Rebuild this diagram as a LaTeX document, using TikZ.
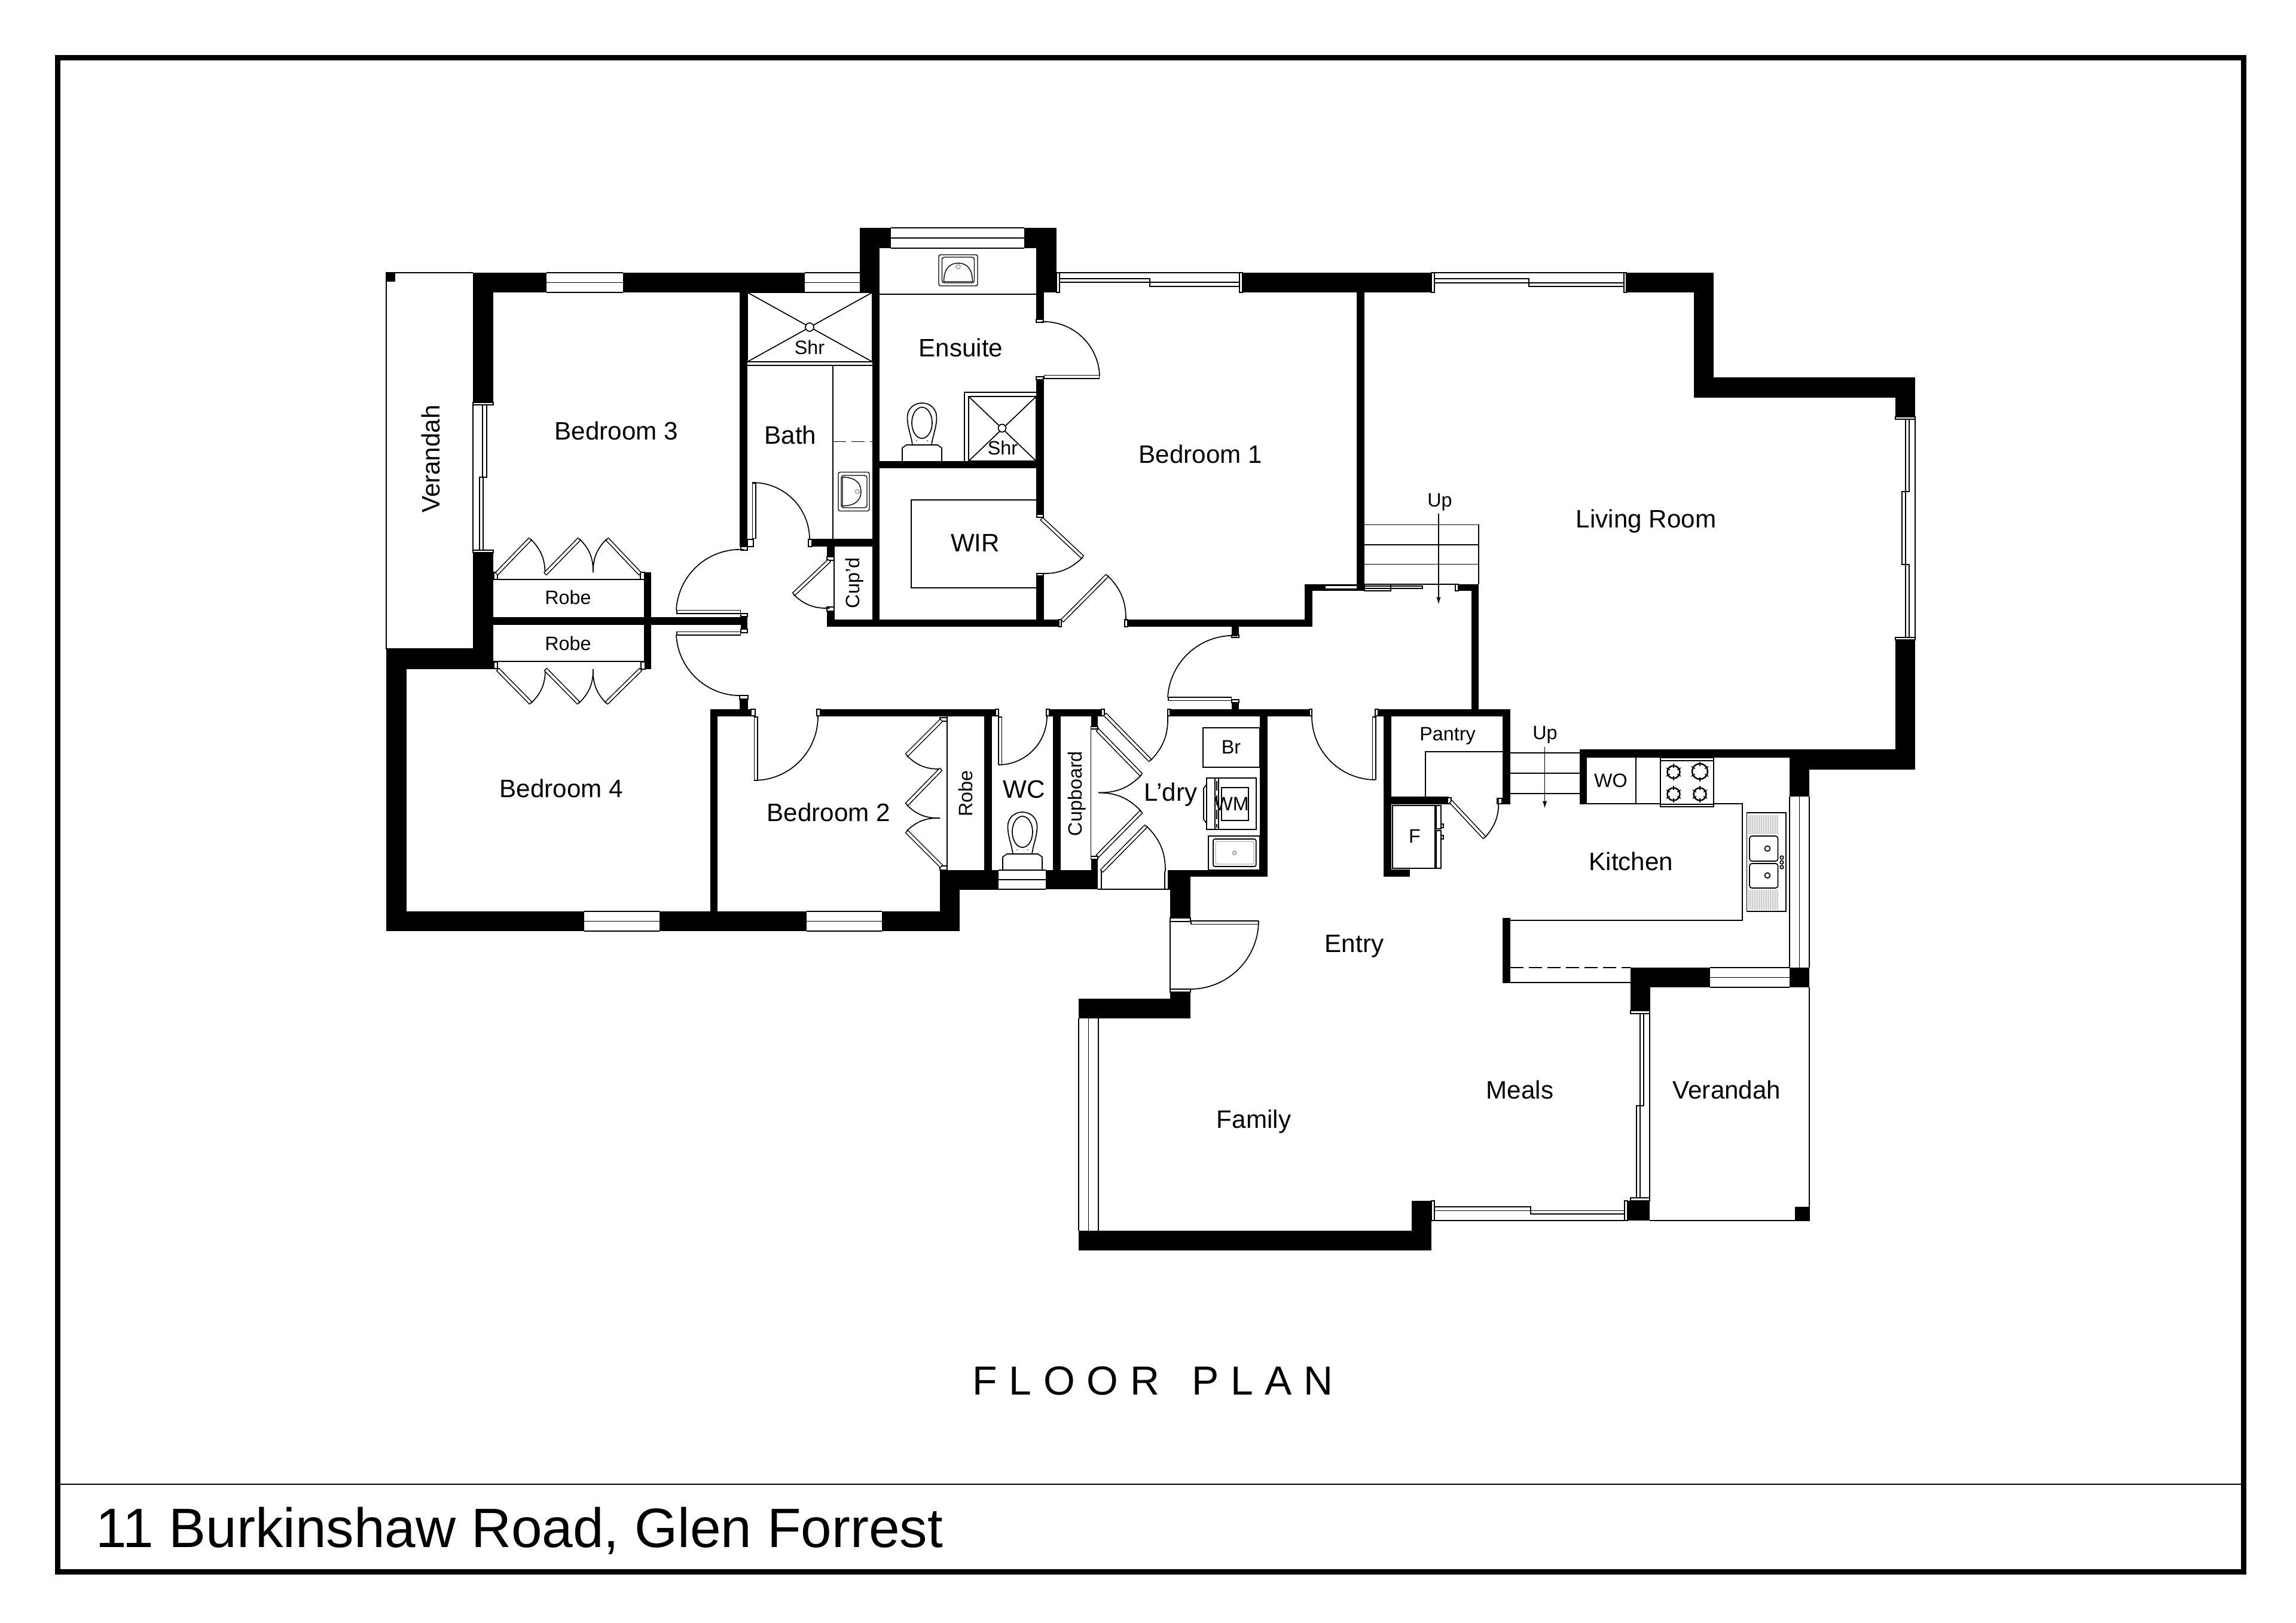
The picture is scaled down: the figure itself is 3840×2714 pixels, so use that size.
\documentclass[tikz,border=0pt]{standalone}
\usepackage{fontspec}
\setmainfont{Liberation Sans}
\usetikzlibrary{arrows.meta,calc}
\tikzset{
 tn/.style={line width=.17mm,black},
 room/.style={font=\fontsize{12}{13}\selectfont,inner sep=0pt},
 smalltxt/.style={font=\fontsize{9.2}{10}\selectfont,inner sep=0pt},
 upline/.style={tn,-{Latex[length=1.25mm,width=.75mm]}},
 dashln/.style={tn,dash pattern=on 2.2mm off .9mm},
}
\newcommand\wl[4]{\fill[black] (#1,#2) rectangle (#3,#4);}
\newcommand\jb[4]{\draw[tn,fill=white] (#1,#2) rectangle (#3,#4);}
\newcommand\bx[4]{\draw[tn] (#1,#2) rectangle (#3,#4);}
\newcommand\pn[2]{\draw[black,line width=.7mm] #1 -- #2;\draw[white,line width=.4mm,shorten <=.15mm,shorten >=.15mm] #1 -- #2;}
\newcommand\dr[4]{\draw[tn] #1 to[#3=#4] #2;}
\newcommand\win[4]{\draw[tn] (#1,#2) -- (#3,#2) (#1,#4) -- (#3,#4) (#1,{(#2+#4)/2}) -- (#3,{(#2+#4)/2});}
\newcommand\vwin[4]{\draw[tn] (#1,#2) -- (#1,#4) (#3,#2) -- (#3,#4) ({(#1+#3)/2},#2) -- ({(#1+#3)/2},#4);}
\newcommand\toilet[2]{\begin{scope}[shift={(#1,#2)}]
 \draw[tn] (-33,0) -- (-33,-22) -- (-26,-27) -- (26,-27) -- (33,-22) -- (33,0);
 \draw[tn] (-16,-27) .. controls (-18,-43) and (-24.5,-56) .. (-24.5,-73) .. controls (-24.5,-88) and (-13,-97) .. (0,-97) .. controls (13,-97) and (24.5,-88) .. (24.5,-73) .. controls (24.5,-56) and (18,-43) .. (16,-27);
 \draw[tn] (0,-64) ellipse [x radius=1.7mm,y radius=2.6mm];
 \fill (-9,-34) circle [radius=.09mm] (9,-34) circle [radius=.09mm];
\end{scope}}
\newcommand\basin[3]{\begin{scope}[shift={(#1,#2)},rotate=#3]
 \draw[line width=.14mm,rounded corners=.3mm] (-32.5,-26) rectangle (32.5,26);
 \draw[line width=.14mm,rounded corners=.4mm] (-27,-22) rectangle (27,21);
 \draw[line width=.14mm] (-24,19) -- (24,19) .. controls (24,-4) and (13,-12) .. (0,-12) .. controls (-13,-12) and (-24,-4) .. (-24,19);
 \draw[line width=.2mm,gray!60] (0,-6) circle [radius=.35mm];
\end{scope}}
\newcommand\bur[3]{\begin{scope}[shift={(#1,#2)}]
 \draw[line width=.25mm] (0,0) circle [radius=#3];
 \foreach \a in {90,270,30,150,210,330}{\draw[line width=.15mm] (\a:#3-.35mm) -- (\a:#3+.35mm);}
\end{scope}}
\begin{document}
\begin{tikzpicture}[x=.1mm,y=-.1mm]
\useasboundingbox (0,0) rectangle (3840,2714);
\fill[white] (0,0) rectangle (3840,2714);
% frame
\draw[black,line width=.9mm] (96.5,96.7) rectangle (3752.7,2628.3);
\draw[black,line width=.25mm] (96.5,2482) -- (3752.7,2482);
\node[anchor=base west,inner sep=0pt,font=\fontsize{26.4}{28}\selectfont] (title) at (160,2587) {11 Burkinshaw Road, Glen Forrest};
\node[anchor=base west,inner sep=0pt,font=\fontsize{19.3}{21}\selectfont\addfontfeature{LetterSpace=29}] (plan) at (1626,2332) {FLOOR\hspace{1.6mm} PLAN};

% --- left verandah
\draw[tn] (791,456) -- (646,456) -- (646,1085) -- (791,1085);
\wl{646}{456}{661}{471}
% --- top walls
\wl{791}{456}{914}{489}
\win{914}{456}{1042}{489}
\wl{1042}{456}{1346}{489}
\win{1346}{456}{1438}{489}
\wl{1437.5}{381}{1490}{415}
\wl{1437.5}{381}{1471}{489}
\win{1490}{381}{1713}{415}
\wl{1713}{381}{1767}{415}
\wl{1733}{415}{1767}{489}
% top window bed 1
\jb{1767}{456}{1772}{489}
\jb{2073}{456}{2078}{489}
\draw[tn] (1767,456) -- (2078,456);
\bx{1772}{466}{1923}{472}
\bx{1923}{472}{2073}{479}
\wl{2078}{456}{2394}{489}
\jb{2394}{456}{2399}{489}
\jb{2716}{456}{2720}{489}
\draw[tn] (2394,456) -- (2720,456);
\bx{2399}{466}{2557}{473}
\bx{2557}{473}{2716}{479}
\wl{2720}{456}{2866}{489}
\wl{2833}{456}{2866}{664.5}
\wl{2833}{631}{3203}{664.5}
\wl{3170}{631}{3203}{697}
% living window
\jb{3170}{697}{3203}{701}
\jb{3170}{1066}{3203}{1070}
\draw[tn] (3203,697) -- (3203,1070);
\bx{3187}{701}{3193}{822}
\bx{3181}{822}{3187}{944}
\bx{3187}{944}{3193}{1066}
\wl{3170}{1070}{3203}{1287}
\wl{2642}{1253}{3203}{1267}
\wl{2993}{1253}{3203}{1287}
\wl{2993}{1253}{3026}{1332}

% --- bedroom 3 left
\wl{791}{489}{825}{673}
\jb{791}{673}{825}{677}
\jb{791}{920}{825}{924}
\draw[tn] (791,677) -- (791,920);
\bx{807}{677}{814}{798}
\bx{802}{798}{808}{920}
\wl{791}{924}{825}{1119}
\wl{646}{1085}{825}{1119}
\wl{646}{1085}{680}{1557}
\wl{646}{1524}{977}{1557}
\win{977}{1524}{1103}{1557}
\wl{1103}{1524}{1349}{1557}
\win{1349}{1524}{1475}{1557}
\wl{1475}{1524}{1605}{1557}
\wl{1572}{1488}{1605}{1557}
\wl{1572}{1455}{1670}{1488}
% interior walls
\wl{1237}{489}{1250}{914}
\wl{1188}{1186}{1200}{1524}
\wl{1188}{1186}{1256}{1198}
\wl{1237}{1169}{1251}{1186}
\wl{1368}{1186}{1665}{1198}
\wl{825}{1032}{1239}{1045}
\wl{1239}{1031}{1250}{1052}
\wl{1077}{957}{1089}{1119}
\draw[tn] (825,969) -- (1077,969) (825,1106) -- (1077,1106);
% bath etc
\wl{1354}{901}{1471}{914}
\wl{1383}{914}{1395}{931}
\wl{1383}{1022}{1395}{1048}
\wl{1383}{1036}{1771}{1048}
\wl{1459}{489}{1471}{1048}
\wl{1733}{489}{1745.5}{534}
\wl{1733}{632}{1745.5}{860}
\wl{1733}{960}{1745.5}{1048}
\wl{1459}{771}{1745.5}{783}
% shower bath
\bx{1250}{489}{1459}{605}
\draw[tn] (1250,611) -- (1459,611);
\draw[tn] (1250,489) -- (1459,605) (1459,489) -- (1250,605);
\draw[tn,fill=white] (1354,547) circle [radius=.7mm];
\draw[tn] (1393,611) -- (1393,901);
\draw[dashln] (1393,738.6) -- (1459,738.6);
\basin{1428}{822}{-90}
\draw[tn] (1471,492) -- (1733,492);
\basin{1602.5}{452}{0}
\toilet{1542}{771}
% ensuite shower
\draw[tn] (1613,771) -- (1613,656) -- (1733,656);
\bx{1620}{663}{1733}{771}
\draw[tn] (1620,663) -- (1733,771) (1733,663) -- (1620,771);
\draw[tn,fill=white] (1676,716) circle [radius=.65mm];
% WIR
\draw[tn] (1733,836) -- (1524,836) -- (1524,983) -- (1733,983);
\draw[tn] (1395,914) -- (1395,1036);
% bedroom 1 lower wall
\wl{1881}{1036}{2195}{1048}
\wl{2182}{977}{2195}{1048}
\wl{2182}{977}{2282}{988}
\wl{2269}{489}{2282}{988}
\fill[white] (2217,980) rectangle (2270,984);
\bx{2282}{977}{2326}{988}
\bx{2270}{980}{2379}{984}
\wl{2060}{1048}{2072}{1062}
% stairs
\draw[tn] (2282,877.5) -- (2473,877.5) -- (2473,977) (2282,911) -- (2473,911) (2282,943.5) -- (2473,943.5) (2326,977) -- (2434,977);
\wl{2434}{977}{2473}{988}
\wl{2461}{977}{2473}{1186}
\jb{2434}{977}{2439}{988}
\coordinate (up1a) at (2406,859);
\coordinate (up1b) at (2406,1011);
\draw[upline] (up1a) -- (up1b);
% corridor lower wall
\wl{1646}{1198}{1659}{1455}
\wl{1755}{1186}{1842}{1198}
\wl{1761}{1198}{1773.5}{1455}
\wl{1824.5}{1198}{1836}{1215}
\wl{1824.5}{1437}{1836}{1455}
\draw[tn] (1824.5,1219) -- (1824.5,1432);
\wl{1954}{1186}{2190}{1198}
\wl{2060}{1175}{2072}{1186}
\wl{2305}{1186}{2525}{1198}
% wc, cupboard base
\wl{1646}{1455}{1670}{1487}
\win{1670}{1455}{1749}{1487}
\wl{1749}{1455}{1836}{1487}
\draw[tn] (1836,1487) -- (1953,1487) (1842,1457) -- (1842,1487) (1948,1457) -- (1948,1487);
\toilet{1710}{1455}
% l'dry
\wl{2107}{1198}{2120}{1466}
\wl{1953}{1455}{2120}{1466}
\wl{1953}{1455}{1991}{1488}
\wl{1957}{1488}{1991}{1535}
\jb{1957}{1535}{1991}{1541}
\draw[tn] (1957,1541) -- (1957,1654);
\jb{1957}{1654}{1991}{1659}
\wl{1957}{1659}{1991}{1703}
\wl{1804}{1670}{1991}{1703}
\vwin{1804}{1703}{1837}{2058}
\wl{1804}{2058}{2394}{2091}
\wl{2361}{2008}{2394}{2091}
\bx{2012}{1217}{2107}{1283}
\bx{2018}{1301}{2101}{1387}
\bx{2043}{1317}{2088}{1372}
\draw[tn] (2032,1301) -- (2032,1387) (2038,1301) -- (2038,1387);
\draw[line width=.12mm,dash pattern=on 1.6mm off .8mm] (2035,1306) -- (2035,1384);
\draw[tn] (2018,1312) -- (2013,1318) -- (2013,1370) -- (2018,1377);
\bx{2021}{1398}{2107}{1455}
\draw[tn,rounded corners=.3mm] (2029,1403) rectangle (2100.7,1449);
\draw[line width=.12mm,gray!60,rounded corners=.3mm] (2033,1407) rectangle (2097,1445);
\draw[line width=.2mm,gray!70] (2064.7,1426) circle [radius=.3mm];
% pantry
\wl{2314}{1186}{2327}{1466}
\wl{2314}{1453.5}{2358}{1466}
\wl{2327}{1332}{2423}{1345}
\wl{2513}{1186}{2526}{1345}
\draw[tn] (2384,1332) -- (2384,1257) -- (2513,1257);
\bx{2329}{1347}{2400}{1452}
\bx{2402}{1347}{2410}{1386}
\bx{2402}{1389}{2410}{1452}
\bx{2410}{1378}{2414}{1384}
\bx{2410}{1397}{2414}{1403}
% stairs 2
\draw[tn] (2526,1259) -- (2642,1259) (2526,1293) -- (2642,1293) (2526,1327) -- (2642,1327);
\coordinate (up2a) at (2583.6,1249);
\coordinate (up2b) at (2583.6,1352);
\draw[upline] (up2a) -- (up2b);
% kitchen
\wl{2642}{1253}{2654}{1345}
\draw[tn] (2654,1344) -- (2914,1344) -- (2914,1539) -- (2526,1539);
\draw[tn] (2736,1267) -- (2736,1344);
\draw[tn,fill=white] (2777,1267) rectangle (2866,1349);
\draw[tn] (2777,1272) -- (2866,1272) (2777,1345) -- (2866,1345);
\bur{2799}{1291}{1.05mm}
\bur{2843}{1290}{1.3mm}
\bur{2799}{1328}{1.05mm}
\bur{2843}{1328}{1.05mm}
\foreach \x in {2925,2928,...,2973}{\draw[line width=.16mm,gray!40] (\x,1363) -- (\x,1395) (\x,1488) -- (\x,1521);}
\bx{2921.5}{1359}{2987}{1524}
\draw[tn,rounded corners=.4mm] (2926,1398) rectangle (2973.5,1440);
\draw[tn,rounded corners=.4mm] (2926,1444) rectangle (2973.5,1485);
\draw[tn] (2956,1419) circle [radius=.45mm] (2956,1464) circle [radius=.45mm];
\draw[tn] (2980,1434) circle [radius=.28mm] (2980,1442) circle [radius=.28mm] (2980,1450) circle [radius=.28mm];
\vwin{2993}{1332}{3026}{1618}
\wl{2513}{1535}{2526}{1644}
\draw[dashln] (2526,1618) -- (2727,1618);
\draw[tn] (2526,1643) -- (2727,1643);
\wl{2727}{1618}{2860}{1651}
\win{2860}{1618}{2993}{1651}
\wl{2993}{1618}{3026}{1651}
\wl{2727}{1651}{2760}{1690}
\jb{2727}{1690}{2759}{1695}
\jb{2727}{2003}{2759}{2008}
\draw[tn] (2759,1695) -- (2759,2003);
\bx{2743}{1695}{2749}{1849}
\bx{2737}{1849}{2743}{2003}
\wl{2722}{2008}{2759}{2041}
% meals window
\jb{2394}{2008}{2399}{2041}
\jb{2717}{2008}{2722}{2041}
\draw[tn] (2394,2041) -- (2722,2041);
\bx{2399}{2018}{2560}{2024.6}
\bx{2560}{2024.6}{2717}{2030}
% right verandah
\draw[tn] (3026,1651) -- (3026,2041) -- (2759,2041);
\wl{3002}{2018}{3026}{2041}

% --- jambs
\jb{1239}{914}{1250}{920}
\jb{1250}{902}{1260}{914}
\jb{1239}{1026}{1250}{1031}
\jb{1239}{1052}{1250}{1058}
\jb{1237}{1163}{1251}{1169}
\jb{1256}{1186}{1263}{1197}
\jb{1366}{1186}{1372}{1197}
\jb{1665}{1186}{1670}{1197}
\jb{1750}{1186}{1755}{1197}
\jb{1842}{1186}{1847}{1197}
\jb{1953}{1186}{1957}{1197}
\jb{2060}{1062}{2072}{1066}
\jb{2060}{1170}{2072}{1175}
\jb{2190}{1186}{2194}{1197}
\jb{2300}{1186}{2305}{1197}
\jb{1771}{1036}{1775}{1048}
\jb{1881}{1036}{1886}{1048}
\jb{1734}{959}{1745}{963}
\jb{1734}{860}{1745}{865}
\jb{1733}{534}{1745}{539}
\jb{1733}{630}{1745}{635}
\jb{1383}{931}{1395}{937}
\jb{1383}{1015}{1395}{1022}
\jb{1352}{902}{1358}{914}
\jb{826}{957}{832}{969}
\jb{1071}{957}{1078}{969}
\jb{826}{1107}{832}{1118}
\jb{1072}{1107}{1079}{1119}
\jb{1572}{1200}{1584}{1206}
\jb{1572}{1448}{1584}{1455}
\jb{1824.5}{1215}{1836}{1219}
\jb{1824.5}{1432}{1836}{1437}
\jb{2421}{1334}{2427}{1344}
\jb{2504}{1335}{2512}{1344}
\draw[tn] (1584,1198) -- (1584,1455);

% --- doors
\pn{(1131,1023)}{(1239,1023)}
\dr{(1131,1020)}{(1244,919)}{bend left}{45}
\pn{(1131,1059)}{(1239,1059)}
\dr{(1131,1062)}{(1244,1163)}{bend right}{45}
\pn{(1261,807)}{(1261,901)}
\dr{(1258,807)}{(1354,901)}{bend left}{45}
\pn{(1387.5,937)}{(1327,994)}
\dr{(1327,994)}{(1387.5,1017)}{bend right}{23}
\pn{(1741.5,867)}{(1811,932)}
\dr{(1811,932)}{(1740,959)}{bend left}{23}
\pn{(1745.5,630)}{(1839,630)}
\dr{(1839,628)}{(1742,538)}{bend right}{45}
\pn{(1776,1038.5)}{(1852,962)}
\dr{(1852,962)}{(1883,1038)}{bend left}{23}
\pn{(1264,1198)}{(1264,1305)}
\dr{(1261,1305)}{(1368,1198)}{bend right}{45}
\pn{(1672.5,1198)}{(1672.5,1279)}
\dr{(1670,1279)}{(1751,1197)}{bend right}{45}
\pn{(1953,1168.5)}{(2060,1168.5)}
\dr{(1953,1166)}{(2069,1063)}{bend left}{45}
\pn{(2298,1198)}{(2298,1304)}
\dr{(2300,1304)}{(2194,1197)}{bend left}{45}
\pn{(1991,1542.5)}{(2105,1542.5)}
\dr{(2105,1540)}{(1990,1654)}{bend left}{45}
\pn{(1847.5,1194)}{(1924,1272)}
\dr{(1924,1272)}{(1953,1197)}{bend right}{23}
\pn{(1842,1457)}{(1917,1381)}
\dr{(1917,1381)}{(1949,1457)}{bend left}{23}
\pn{(2426,1340)}{(2483,1401)}
\dr{(2483,1401)}{(2506,1335)}{bend right}{23}
\pn{(1835,1220)}{(1909,1296)}
\dr{(1909,1296)}{(1837,1325.5)}{bend left}{23}
\pn{(1835,1432)}{(1909,1357)}
\dr{(1909,1357)}{(1837,1325.5)}{bend right}{23}
% bifolds
\pn{(830,960)}{(887,901)}
\dr{(887,901)}{(911.5,960)}{bend left}{23}
\pn{(911.5,960)}{(969,901)}
\dr{(969,901)}{(992,957)}{bend left}{23}
\dr{(992,957)}{(1015,901)}{bend left}{23}
\pn{(1015,901)}{(1071,960)}
\pn{(832,1119)}{(888,1176)}
\dr{(888,1176)}{(912,1119)}{bend right}{23}
\pn{(912,1119)}{(968,1176)}
\dr{(968,1176)}{(992,1119)}{bend right}{23}
\dr{(992,1119)}{(1014,1176)}{bend right}{23}
\pn{(1014,1176)}{(1072,1119)}
\pn{(1575,1204)}{(1516,1263)}
\dr{(1516,1263)}{(1574,1286)}{bend right}{23}
\pn{(1574,1286)}{(1516,1345.5)}
\dr{(1516,1345.5)}{(1572,1368)}{bend right}{23}
\dr{(1572,1368)}{(1516,1390)}{bend right}{23}
\pn{(1516,1390)}{(1575,1449)}

% --- labels
\node[room,rotate=90] (verL) at (720,767.5) {Verandah};
\node[room] (b3) at (1031,720) {Bedroom 3};
\node[smalltxt] (robe1) at (950,999) {Robe};
\node[smalltxt] (robe2) at (950,1076) {Robe};
\node[room] (b4) at (939,1318) {Bedroom 4};
\node[room] (b2) at (1386,1358) {Bedroom 2};
\node[smalltxt,rotate=90] (robe3) at (1615,1327) {Robe};
\node[smalltxt] (shr1) at (1354,581) {Shr};
\node[smalltxt] (shr2) at (1677,749) {Shr};
\node[room] (bath) at (1322,727) {Bath};
\node[room] (ens) at (1607,581) {Ensuite};
\node[room] (wir) at (1631,908) {WIR};
\node[smalltxt,rotate=90] (cup) at (1429,975) {Cup'd};
\node[room] (b1) at (2008,759) {Bedroom 1};
\node[room] (liv) at (2753,872) {Living Room};
\node[smalltxt] (up1) at (2408,840) {Up};
\node[smalltxt] (up2) at (2584,1229) {Up};
\node[smalltxt] (pan) at (2421,1230.5) {Pantry};
\node[smalltxt] (f) at (2366,1398) {F};
\node[smalltxt] (wo) at (2694,1305) {WO};
\node[room] (kit) at (2728,1440) {Kitchen};
\node[room] (wc) at (1713,1320) {WC};
\node[smalltxt,rotate=90] (cb) at (1801,1327) {Cupboard};
\node[room] (ldry) at (1958,1329) {L'dry};
\node[smalltxt] (br) at (2059,1249.5) {Br};
\node[smalltxt] (wm) at (2060,1344) {WM};
\node[room] (entry) at (2265,1582) {Entry};
\node[room] (meals) at (2542,1822) {Meals};
\node[room] (verR) at (2888,1822) {Verandah};
\node[room] (fam) at (2097,1876) {Family};
\end{tikzpicture}
\end{document}
